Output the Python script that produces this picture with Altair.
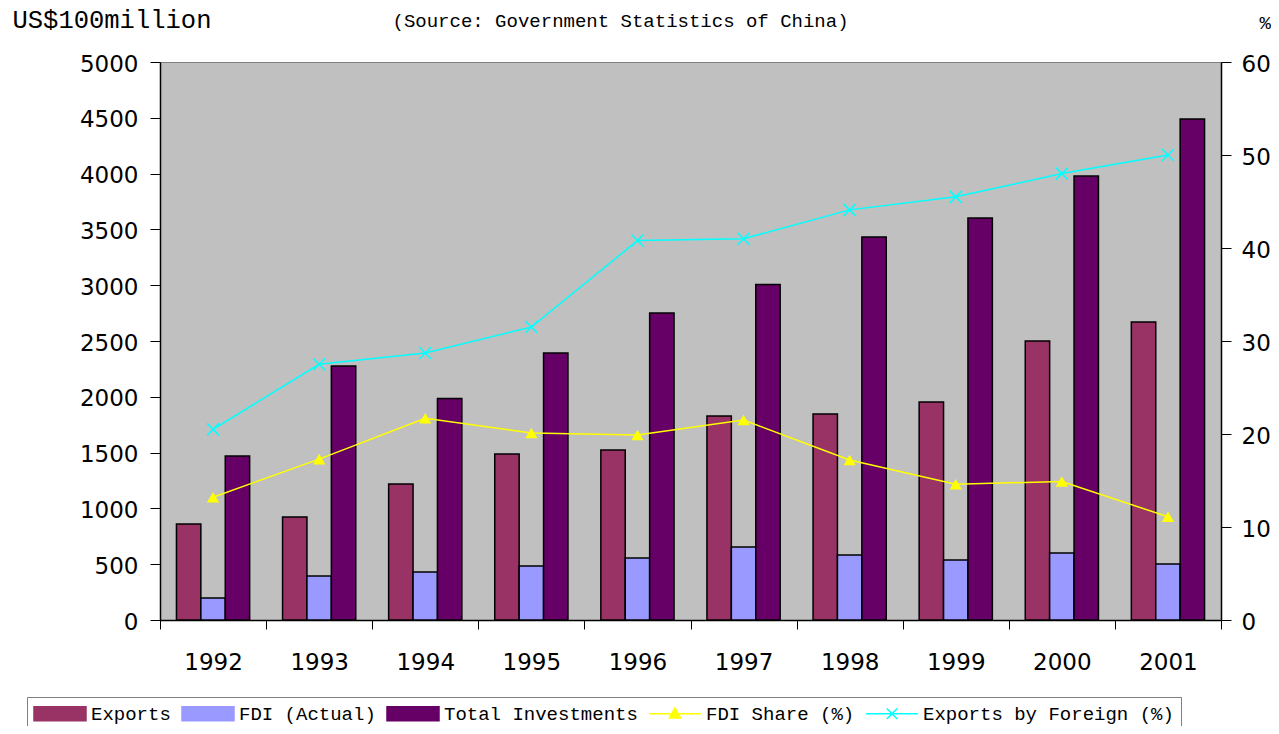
import altair as alt
import pandas as pd

years = ["1992", "1993", "1994", "1995", "1996", "1997", "1998", "1999", "2000", "2001"]
exports = [860, 923, 1219, 1487, 1523, 1828, 1846, 1953, 2500, 2670]
fdi_actual = [197, 394, 430, 484, 556, 654, 582, 538, 600, 502]
total_inv = [1470, 2276, 1985, 2393, 2751, 3006, 3432, 3602, 3978, 4489]
fdi_share = [13.2, 17.3, 21.7, 20.1, 19.9, 21.5, 17.2, 14.6, 14.9, 11.1]
exports_foreign = [20.5, 27.5, 28.7, 31.5, 40.8, 41.0, 44.1, 45.5, 48.0, 50.0]

bar_series = ["Exports", "FDI (Actual)", "Total Investments"]
line_series = ["FDI Share (%)", "Exports by Foreign (%)"]
all_series = bar_series + line_series
colors = ["#993366", "#9999FF", "#660066", "#FFFF00", "#00FFFF"]

bar_rows = []
for name, vals in zip(bar_series, [exports, fdi_actual, total_inv]):
    for y, v in zip(years, vals):
        bar_rows.append({"year": y, "series": name, "value": v})
bar_df = pd.DataFrame(bar_rows)

line_rows = []
for name, vals in zip(line_series, [fdi_share, exports_foreign]):
    for y, v in zip(years, vals):
        line_rows.append({"year": y, "series": name, "pct": v})
line_df = pd.DataFrame(line_rows)

MONO = "Courier New, Liberation Mono, monospace"
SANS = "DejaVu Sans"

shape_expr = (
    "datum.value == 'FDI Share (%)' ? 'M-1.357,0H6.071M2.357,-0.85L3.157,0.6H1.557Z' : "
    "datum.value == 'Exports by Foreign (%)' ? "
    "'M-1.357,0H6.071M1.607,-0.75L3.107,0.75M1.607,0.75L3.107,-0.75' : "
    "'M-1.357,-1H6.071V1H-1.357Z'"
)
stroke_expr = (
    "(datum.value == 'FDI Share (%)' || datum.value == 'Exports by Foreign (%)') ? "
    "scale('color', datum.value) : 'black'"
)

legend = alt.Legend(
    title=None, orient="none", legendX=-133, legendY=635, direction="horizontal",
    labelFont=MONO, labelFontSize=19, labelColor="black", labelLimit=600,
    labelOffset=38, symbolSize=196, columnPadding=8, padding=7,
    strokeColor="#808080",
    symbolType={"expr": shape_expr},
    symbolStrokeColor={"expr": stroke_expr},
    symbolFillColor={"expr": "scale('color', datum.value)"},
    symbolStrokeWidth=1.5, symbolOpacity=1,
)

color_enc = alt.Color("series:N", scale=alt.Scale(domain=all_series, range=colors), legend=legend)

x_enc = alt.X(
    "year:N", sort=years,
    scale=alt.Scale(paddingInner=0, paddingOuter=0),
    axis=alt.Axis(
        title="(Source: Government Statistics of China)", titleX=232, titleY=-600,
        titleAlign="left", titleBaseline="middle", titleFont=MONO, titleFontSize=19,
        titleFontWeight="normal", titleColor="black",
        labelAngle=0, labelFont=SANS, labelFontSize=23, labelColor="black",
        labelPadding=22, tickSize=9, tickBand="extent", tickColor="black",
        domainColor="black", domainWidth=1.5, grid=False,
    ),
)

bars = alt.Chart(bar_df).mark_bar(stroke="black", strokeWidth=1.5).encode(
    x=x_enc,
    xOffset=alt.XOffset("series:N", sort=bar_series,
                        scale=alt.Scale(paddingInner=0, paddingOuter=0.674)),
    y=alt.Y(
        "value:Q", scale=alt.Scale(domain=[0, 5000], nice=False),
        axis=alt.Axis(
            values=list(range(0, 5001, 500)), format="d", title="US$100million", titleAngle=0,
            titleX=-148, titleY=-43, titleAlign="left", titleBaseline="middle",
            titleFont=MONO, titleFontSize=25.5, titleFontWeight="normal", titleColor="black",
            labelFont=SANS, labelFontSize=23, labelColor="black", labelPadding=12,
            labelOffset=2, tickSize=10, tickColor="black", domainColor="black",
            domainWidth=1.5, grid=False,
        ),
    ),
    color=color_enc,
)

right_axis = alt.Axis(
    orient="right", values=list(range(0, 61, 10)), format="d", title="%", titleAngle=0,
    titleX=38, titleY=-40, titleAlign="left", titleBaseline="middle",
    titleFont=MONO, titleFontSize=19, titleFontWeight="normal", titleColor="black",
    labelFont=SANS, labelFontSize=23, labelColor="black", labelPadding=10,
    labelOffset=2, tickSize=10, tickColor="black", domainColor="black",
    domainWidth=1.5, grid=False,
)
y_right = alt.Y("pct:Q", scale=alt.Scale(domain=[0, 60], nice=False), axis=right_axis)

line_share = alt.Chart(line_df).transform_filter(
    alt.datum.series == "FDI Share (%)"
).mark_line(
    strokeWidth=1.5,
    point=alt.OverlayMarkDef(shape="triangle-up", filled=True, size=150),
).encode(x=x_enc, y=y_right, color=color_enc)

line_foreign = alt.Chart(line_df).transform_filter(
    alt.datum.series == "Exports by Foreign (%)"
).mark_line(
    strokeWidth=1.5,
    point=alt.OverlayMarkDef(shape="M-1,-1L1,1M-1,1L1,-1", filled=False, size=144, strokeWidth=1.5),
).encode(x=x_enc, y=y_right, color=color_enc)

lines = alt.layer(line_share, line_foreign)

chart = alt.layer(bars, lines).resolve_scale(y="independent").properties(
    width=1061, height=558,
    autosize=alt.AutoSizeParams(type="none"),
    padding={"left": 152, "top": 54, "right": 50, "bottom": 106},
    background="white",
).configure_view(fill="#C0C0C0", stroke="#808080", strokeWidth=1)

chart.save("out.html", embed_options={"renderer": "svg", "actions": False})
